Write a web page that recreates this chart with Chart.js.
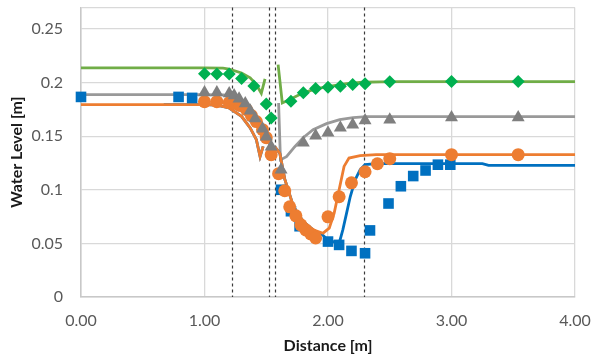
<!DOCTYPE html>
<html>
<head>
<meta charset="utf-8">
<script src="https://cdn.jsdelivr.net/npm/chart.js@4/dist/chart.umd.min.js"></script>
<style>
    html, body { margin: 0; padding: 0; background: #fff; }
    #wrap { width: 593px; height: 358px; }
</style>
</head>
<body>
<div id="wrap"><canvas id="chart"></canvas></div>
<script>
// Measured points
const blueX = [0, 0.79, 0.9, 1.62, 1.7, 1.77, 2.0, 2.09, 2.19, 2.3, 2.34, 2.49, 2.59, 2.69, 2.79, 2.89, 2.99];
const blueY = [0.1866, 0.1866, 0.1857, 0.1, 0.08, 0.066, 0.0517, 0.0486, 0.043, 0.0408, 0.0621, 0.0872, 0.1033, 0.1128, 0.118, 0.1234, 0.1234];

const orangeX = [1.0, 1.1, 1.2, 1.25, 1.29, 1.34, 1.38, 1.42, 1.47, 1.5, 1.54, 1.6, 1.65, 1.69, 1.74, 1.78, 1.82, 1.86, 1.9, 2.0, 2.09, 2.19, 2.3, 2.4, 2.5, 3.0, 3.54];
const orangeY = [0.1822, 0.1822, 0.1813, 0.1804, 0.1785, 0.1748, 0.1692, 0.1636, 0.1561, 0.1486, 0.1327, 0.115, 0.0991, 0.0841, 0.0757, 0.0673, 0.0626, 0.0589, 0.0551, 0.0748, 0.0935, 0.1065, 0.1168, 0.1243, 0.129, 0.1327, 0.1327];

const grayX = [1.0, 1.1, 1.2, 1.24, 1.28, 1.33, 1.37, 1.41, 1.47, 1.5, 1.54, 1.62, 1.8, 1.9, 2.0, 2.1, 2.2, 2.3, 2.5, 3.0, 3.54];
const grayY = [0.1907, 0.1907, 0.1897, 0.1879, 0.185, 0.1804, 0.1738, 0.1664, 0.157, 0.1495, 0.1402, 0.1187, 0.1439, 0.1505, 0.1533, 0.1579, 0.1607, 0.1645, 0.1654, 0.1673, 0.1673];

const greenX = [1.0, 1.1, 1.2, 1.3, 1.4, 1.5, 1.54, 1.7, 1.8, 1.9, 2.0, 2.1, 2.2, 2.3, 2.5, 3.0, 3.54];
const greenY = [0.2081, 0.208, 0.208, 0.2037, 0.1969, 0.18, 0.167, 0.1825, 0.1904, 0.1944, 0.1956, 0.1965, 0.1981, 0.1988, 0.2007, 0.2009, 0.2009];

// Simulated profiles (null = gap at the gate)
const blueLineX = [0.67, 1.0, 1.1, 1.2, 1.3, 1.37, 1.42, 1.45, 1.475, 1.5, 1.57, 1.61, 1.65, 1.72, 1.8, 1.88, 1.96, 2.0, 2.09, 2.12, 2.15, 2.18, 2.22, 2.26, 2.3, 2.39, 3.25, 3.3, 4.0];
const blueLineY = [0.1794, 0.1794, 0.179, 0.1763, 0.1685, 0.1577, 0.1467, 0.1311, 0.1405, null, 0.14, 0.134, 0.11, 0.0844, 0.0704, 0.0626, 0.0575, 0.053, 0.05, 0.0626, 0.078, 0.0935, 0.1093, 0.1187, 0.1234, 0.1244, 0.1244, 0.1228, 0.1228];

const orangeLineX = [0, 1.0, 1.1, 1.2, 1.3, 1.37, 1.42, 1.45, 1.475, 1.5, 1.57, 1.61, 1.65, 1.72, 1.8, 1.88, 1.96, 2.01, 2.05, 2.09, 2.13, 2.17, 2.26, 2.39, 4.0];
const orangeLineY = [0.1794, 0.1794, 0.179, 0.1763, 0.1685, 0.1577, 0.1467, 0.1311, 0.1405, null, 0.14, 0.134, 0.11, 0.0844, 0.0704, 0.0626, 0.0595, 0.0642, 0.0782, 0.1, 0.1218, 0.1296, 0.1318, 0.1327, 0.1327];

const grayLineX = [0, 1.0, 1.15, 1.2, 1.25, 1.3, 1.35, 1.4, 1.45, 1.5, 1.54, 1.55, 1.6, 1.615, 1.664, 1.731, 1.799, 1.879, 1.988, 2.095, 2.203, 2.311, 4.0];
const grayLineY = [0.1888, 0.1888, 0.1885, 0.1878, 0.186, 0.183, 0.178, 0.171, 0.162, 0.15, 0.138, null, 0.181, 0.128, 0.1308, 0.1402, 0.1486, 0.156, 0.1617, 0.1654, 0.1673, 0.1682, 0.1682];

const greenLineX = [0, 1.0, 1.15, 1.2, 1.3, 1.37, 1.42, 1.46, 1.49, 1.5, 1.596, 1.63, 1.69, 1.8, 1.9, 2.01, 2.15, 2.28, 2.42, 2.58, 4.0];
const greenLineY = [0.2137, 0.2137, 0.2134, 0.2126, 0.2089, 0.2044, 0.198, 0.19, 0.2035, null, 0.2168, 0.181, 0.1841, 0.1904, 0.1941, 0.1965, 0.1991, 0.2003, 0.2007, 0.2009, 0.2009];

// Gate / section positions (dashed verticals)
const gateX = [1.22, 1.52, 1.57, 2.29];

const xTicks = [0, 1, 2, 3, 4];

const pts = (xs, ys) => xs.map((x, i) => ({ x: x, y: ys[i] }));

const FONT = 'Lato, "Open Sans", sans-serif';

const gateLines = {
    id: 'gateLines',
    beforeDatasetsDraw(chart) {
        const { ctx, chartArea, scales } = chart;
        ctx.save();
        ctx.strokeStyle = '#3a3a3a';
        ctx.lineWidth = 1.2;
        ctx.setLineDash([3, 3]);
        gateX.forEach(g => {
            const px = Math.round(scales.x.getPixelForValue(g)) + 0.5;
            ctx.beginPath();
            ctx.moveTo(px, chartArea.top);
            ctx.lineTo(px, chartArea.bottom);
            ctx.stroke();
        });
        ctx.restore();
    }
};

const lineSet = (data, color, order) => ({
    data: data,
    showLine: true,
    borderColor: color,
    borderWidth: 2.8,
    pointRadius: 0,
    pointHoverRadius: 0,
    spanGaps: false,
    tension: 0,
    order: order
});

const markSet = (data, color, style, radius, order) => ({
    data: data,
    showLine: false,
    clip: false,
    pointStyle: style,
    pointRadius: radius,
    pointHoverRadius: radius,
    pointBackgroundColor: color,
    pointBorderColor: color,
    pointBorderWidth: 0,
    order: order
});

new Chart(document.getElementById('chart'), {
    type: 'scatter',
    data: {
        datasets: [
            markSet(pts(greenX, greenY), '#00B050', 'rectRot', 6.5, 1),
            markSet(pts(grayX, grayY), '#7F7F7F', 'triangle', 7.5, 2),
            markSet(pts(orangeX, orangeY), '#ED7D31', 'circle', 6.5, 3),
            markSet(pts(blueX, blueY), '#0070C0', 'rect', 7.5, 4),
            lineSet(pts(orangeLineX, orangeLineY), '#ED7D31', 5),
            lineSet(pts(blueLineX, blueLineY), '#0070C0', 6),
            lineSet(pts(grayLineX, grayLineY), '#999999', 7),
            lineSet(pts(greenLineX, greenLineY), '#70AD47', 8)
        ]
    },
    options: {
        responsive: true,
        maintainAspectRatio: false,
        animation: false,
        layout: { padding: { left: 0, top: 7, right: 18, bottom: 0 } },
        plugins: {
            legend: { display: false },
            tooltip: { enabled: false }
        },
        scales: {
            x: {
                type: 'linear',
                min: 0,
                max: 4,
                afterBuildTicks: s => { s.ticks = xTicks.map(v => ({ value: v })); },
                afterFit: s => {
                    s.height = 61;
                    s.paddingLeft = 0;
                    s.paddingRight = 0;
                },
                grid: { color: '#d9d9d9', lineWidth: 1.3, drawTicks: false },
                border: { color: '#c8c8c8', width: 1.5 },
                ticks: {
                    padding: 14,
                    color: '#595959',
                    font: { family: FONT, size: 16 },
                    callback: v => v.toFixed(2)
                },
                title: {
                    display: true,
                    text: 'Distance [m]',
                    color: '#1a1a1a',
                    font: { family: FONT, size: 16, weight: 'bold' },
                    padding: { top: 0, bottom: 3 }
                }
            },
            y: {
                type: 'linear',
                min: 0,
                max: 0.27,
                afterFit: s => {
                    s.width = 81;
                    s.paddingTop = 0;
                    s.paddingBottom = 0;
                },
                grid: { color: '#d9d9d9', lineWidth: 1.3, drawTicks: false },
                border: { color: '#c8c8c8', width: 1.5 },
                ticks: {
                    stepSize: 0.05,
                    padding: 18,
                    color: '#595959',
                    font: { family: FONT, size: 16 },
                    callback: v => (v > 0.255 ? '' : String(+v.toFixed(2)))
                },
                title: {
                    display: true,
                    text: 'Water Level [m]',
                    color: '#1a1a1a',
                    font: { family: FONT, size: 16, weight: 'bold' },
                    padding: { top: 7, bottom: 0 }
                }
            }
        }
    },
    plugins: [gateLines]
});
</script>
</body>
</html>
